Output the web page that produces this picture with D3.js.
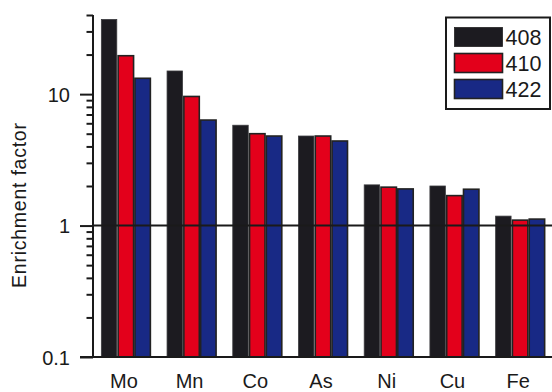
<!DOCTYPE html>
<html><head><meta charset="utf-8">
<script src="https://cdn.jsdelivr.net/npm/d3@7/dist/d3.min.js"></script>
<style>body{margin:0;background:#fff}svg{display:block}text{font-family:"Liberation Sans",Arial,Helvetica,sans-serif;fill:#1a1a1a}</style>
</head><body><svg id="c" width="552" height="392"></svg>
<script>
const categories = ["Mo","Mn","Co","As","Ni","Cu","Fe"];
const series = ["408","410","422"];
const v408 = [37, 15, 5.8, 4.8, 2.04, 2.0, 1.18];
const v410 = [19.6, 9.6, 5.0, 4.8, 1.96, 1.69, 1.1];
const v422 = [13.2, 6.35, 4.8, 4.4, 1.9, 1.89, 1.12];
const majorTicks = [0.1, 1, 10];
const minorTicks = [0.2,0.3,0.4,0.5,0.6,0.7,0.8,0.9,2,3,4,5,6,7,8,9,20,30,40];
const colors = ["#1c1b20","#e3001b","#182985"];
const values = [v408, v410, v422];

const svg = d3.select("#c");
const mL = 93, mR = 553, mT = 15, mB = 357;
const x0 = d3.scaleBand().domain(categories).range([mL, mR]).paddingInner(0.254).paddingOuter(0.127);
const x1 = d3.scaleBand().domain(series).range([0, x0.bandwidth()]).paddingInner(0.08);
const y = d3.scaleLog().domain([0.1, 40]).range([mB, mT]);

// bars
series.forEach((s, si) => {
  svg.append("g").selectAll("rect").data(categories).join("rect")
    .attr("x", c => x0(c) + x1(s))
    .attr("y", (c, i) => y(values[si][i]))
    .attr("width", x1.bandwidth())
    .attr("height", (c, i) => mB - y(values[si][i]))
    .attr("fill", colors[si])
    .attr("stroke", si === 0 ? "#3a3a3e" : "#222")
    .attr("stroke-width", si === 0 ? 0.8 : 1.6);
});

// reference line at 1
svg.append("line").attr("x1", mL).attr("x2", 552).attr("y1", y(1)).attr("y2", y(1))
  .attr("stroke", "#1a1a1a").attr("stroke-width", 2);

// y axis
const fmt = d => majorTicks.includes(d) ? String(d) : "";
const yAxis = d3.axisLeft(y).tickValues(majorTicks.concat(minorTicks)).tickFormat(fmt).tickSize(6.5).tickPadding(10);
const ga = svg.append("g").attr("transform", `translate(${mL},0)`).call(yAxis);
ga.select(".domain").attr("stroke", "#1a1a1a").attr("stroke-width", 2).attr("d", `M0,${mT}V${mB}`);
ga.selectAll(".tick line").attr("stroke", "#1a1a1a").attr("stroke-width", 2)
  .attr("x2", d => majorTicks.includes(d) ? -13 : -6.5);
ga.selectAll(".tick text").attr("font-size", 20).attr("x", -23).attr("dy", "0.36em")
  .style("font-family", '"Liberation Sans",Arial,sans-serif').attr("fill", "#1a1a1a");

// x axis
const xAxis = d3.axisBottom(x0).tickSize(0).tickPadding(0);
const gx = svg.append("g").attr("transform", `translate(0,${mB})`).call(xAxis);
gx.select(".domain").attr("stroke", "#1a1a1a").attr("stroke-width", 2).attr("d", `M${mL-13},0H552`);
gx.selectAll(".tick text").attr("font-size", 20).attr("y", 31).attr("dy", 0).attr("dx", -2)
  .style("font-family", '"Liberation Sans",Arial,sans-serif').attr("fill", "#1a1a1a");

// y label
svg.append("text").attr("transform", "translate(25.5,205.5) rotate(-90)")
  .attr("text-anchor", "middle").attr("font-size", 19.5)
  .attr("textLength", 165).attr("lengthAdjust", "spacing")
  .text("Enrichment factor");

// legend
const lg = svg.append("g");
lg.append("rect").attr("x", 446).attr("y", 17.5).attr("width", 104).attr("height", 91.5)
  .attr("fill", "#fff").attr("stroke", "#1a1a1a").attr("stroke-width", 2);
const ly = d3.scalePoint().domain(series).range([37, 89]);
series.forEach((s, si) => {
  lg.append("rect").attr("x", 454.5).attr("y", ly(s) - 9.5).attr("width", 48).attr("height", 19)
    .attr("fill", colors[si]).attr("stroke", "#222").attr("stroke-width", si === 0 ? 0.8 : 1.6);
  lg.append("text").attr("x", 505.5).attr("y", ly(s) + 8).attr("font-size", 21.5).text(s);
});
</script></body></html>
